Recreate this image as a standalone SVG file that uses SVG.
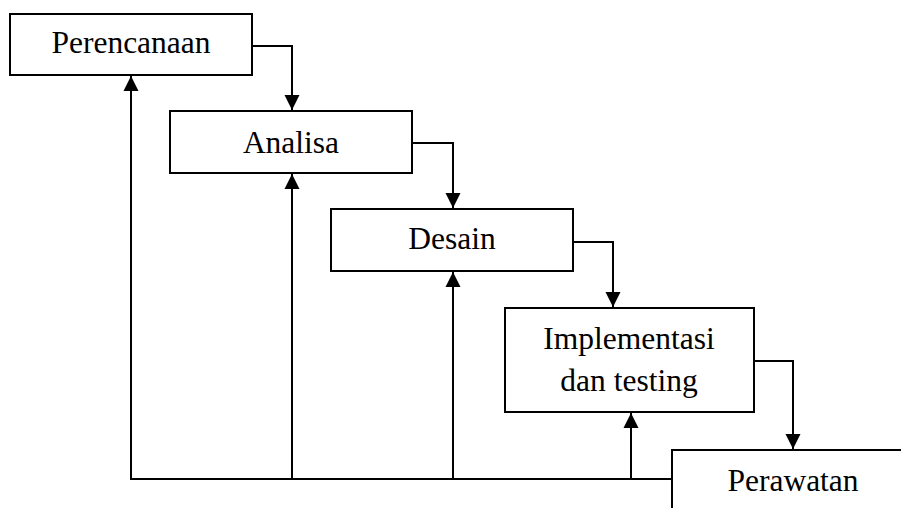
<svg xmlns="http://www.w3.org/2000/svg" width="901" height="508" viewBox="0 0 901 508">
  <style>
    .box { fill: #ffffff; stroke: #000000; stroke-width: 2; }
    .label { font-family: "Liberation Serif", "Times New Roman", serif; font-size: 31.5px; fill: #000000; text-anchor: middle; }
    .wire { fill: none; stroke: #000000; stroke-width: 2; }
  </style>
  <defs>
    <marker id="head" markerUnits="userSpaceOnUse" markerWidth="16" markerHeight="16" viewBox="0 0 16 16" refX="15" refY="8" orient="auto">
      <path d="M0,0.5 L15,8 L0,15.5 Z" fill="#000000"/>
    </marker>
  </defs>
  <rect width="901" height="508" fill="#ffffff"/>

  <g id="connectors">
    <!-- forward flow between stages -->
    <polyline class="wire" points="252,46 292,46 292,110" marker-end="url(#head)"/>
    <polyline class="wire" points="412,143 453,143 453,208" marker-end="url(#head)"/>
    <polyline class="wire" points="573,242 613,242 613,307" marker-end="url(#head)"/>
    <polyline class="wire" points="754,361 793,361 793,449" marker-end="url(#head)"/>
    <!-- feedback bus from maintenance -->
    <line class="wire" x1="130" y1="479" x2="672" y2="479"/>
    <line class="wire" x1="131" y1="479" x2="131" y2="76" marker-end="url(#head)"/>
    <line class="wire" x1="292" y1="479" x2="292" y2="174" marker-end="url(#head)"/>
    <line class="wire" x1="453" y1="479" x2="453" y2="272" marker-end="url(#head)"/>
    <line class="wire" x1="631" y1="479" x2="631" y2="413" marker-end="url(#head)"/>
  </g>

  <g id="perencanaan">
    <rect class="box" x="10" y="14" width="242" height="61"/>
    <text class="label" x="131" y="53">Perencanaan</text>
  </g>
  <g id="analisa">
    <rect class="box" x="170" y="111" width="242" height="62"/>
    <text class="label" x="291" y="153">Analisa</text>
  </g>
  <g id="desain">
    <rect class="box" x="331" y="209" width="242" height="62"/>
    <text class="label" x="452" y="249">Desain</text>
  </g>
  <g id="implementasi">
    <rect class="box" x="505" y="308" width="249" height="104"/>
    <text class="label" x="629" y="349">Implementasi</text>
    <text class="label" x="629" y="391">dan testing</text>
  </g>
  <g id="perawatan">
    <path class="wire" d="M672,512 L672,450 L905,450"/>
    <text class="label" x="793" y="491">Perawatan</text>
  </g>
</svg>
